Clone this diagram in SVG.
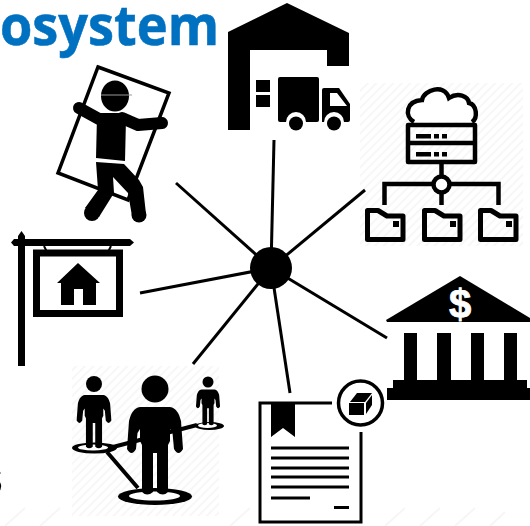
<svg xmlns="http://www.w3.org/2000/svg" width="530" height="526" viewBox="0 0 530 526">
<style>
.k{fill:#000}
.o{fill:none;stroke:#000}
.w{fill:#fff}
.lim{stroke:#000;stroke-linecap:round;fill:none}
#connectors line{stroke:#000;stroke-width:3}
.h{fill:url(#hatch)}
.fold{fill:none;stroke:#000;stroke-width:5;stroke-linejoin:round}
.streak{stroke:#f6f6f6;stroke-width:2}
</style>
<defs>
<pattern id="hatch" width="6" height="6" patternUnits="userSpaceOnUse" patternTransform="rotate(45)">
<rect width="6" height="6" fill="#fff"/><rect width="2" height="6" fill="#f7f7f7"/>
</pattern>
<path id="person" d="M-15 18 H15 C21 19 24 24 26 32 L28 60 Q23.500 68 19 60 L17.500 44 L15 40 V52 L13 56 V103 Q8 108 2 103 V64 H-2 V103 Q-8 108 -13 103 V56 L-15 52 V40 L-17.500 44 L-19 60 Q-23.500 68 -28 60 L-26 32 C-24 24 -21 19 -15 18 Z"/>
</defs>
<rect width="530" height="526" fill="#fff"/>
<g id="backdrop">
<line class="streak" x1="5" y1="526" x2="25" y2="508"/><line class="streak" x1="40" y1="526" x2="60" y2="508"/>
<line class="streak" x1="230" y1="526" x2="250" y2="508"/><line class="streak" x1="385" y1="526" x2="405" y2="508"/>
<line class="streak" x1="420" y1="526" x2="440" y2="508"/><line class="streak" x1="455" y1="526" x2="475" y2="508"/>
<line class="streak" x1="490" y1="526" x2="505" y2="512"/>
</g>
<g id="title"><text x="-27" y="45" font-family="'Open Sans','Liberation Sans',sans-serif" font-weight="700" font-size="56" fill="#0070c0" stroke="#0070c0" stroke-width=".6" textLength="246" lengthAdjust="spacingAndGlyphs">cosystem</text></g>
<g id="fragment"><text x="3" y="494" text-anchor="end" font-family="'Liberation Sans',sans-serif" font-size="50" fill="#000">s</text></g>
<g id="worker">
<polygon points="98,67 169,93 128,200 58,173" class="o" stroke-width="3.500"/>
<ellipse cx="115" cy="96" rx="14" ry="15.500" class="k"/>
<line x1="101" y1="95" x2="132" y2="95" stroke="#999" stroke-width="1"/>
<path d="M79 108 L99 119 M122 118 L138 125 L162 123" class="lim" stroke-width="12" stroke-linejoin="round"/>
<polygon points="97,116 100,113 122,113 126,118 125,161 96,158" class="k"/>
<polygon points="96,162 124,164 139,180 143,187 146,214 132,216 128,193 113,177 114,193 99,217 85,208 98,190" class="k"/>
<circle cx="92" cy="213" r="8" class="k"/><circle cx="139" cy="215" r="7.500" class="k"/>
</g>
<g id="warehouse">
<polygon points="228,32 287,3 349,33 349,66 327,66 327,50 250,50 250,130 228,130" class="k"/>
<rect x="256" y="80" width="14" height="12" class="k"/>
<rect x="256" y="95" width="14" height="12" class="k"/>
<rect x="278" y="77" width="41" height="45" rx="2" class="k"/>
<path d="M322 90 Q322 88 324 88 L339 88 L350 104 L350 120 Q350 122 348 122 L322 122 Z" class="k"/>
<polygon points="330,93 337,93 347,106 330,106" class="w"/>
<circle cx="296" cy="122" r="10" class="w"/><circle cx="296" cy="123.500" r="7" class="k"/>
<circle cx="334" cy="122" r="10" class="w"/><circle cx="334" cy="123.500" r="7" class="k"/>
</g>
<g id="cloud-network">
<rect x="360" y="83" width="163" height="163" class="h"/>
<g class="o" stroke-width="4.500">
<path d="M414 122 C404 116 406 101 422 100 C424 90 444 83 449 98 C458 92 468 96 469 103 C477 105 478 118 472 122" fill="#fff"/>
<rect x="408" y="125" width="67" height="37" stroke-linejoin="round"/>
<line x1="408" y1="143" x2="475" y2="143"/>
<line x1="441.500" y1="163" x2="441.500" y2="205"/>
<path d="M384.500 205 V184 H498.500 V205"/>
<circle cx="441.500" cy="184.500" r="8" fill="#fff"/>
</g>
<path class="fold" d="M367.500 210.500 H378 L387 216 H403 V239.500 H367.500 Z"/>
<path class="fold" d="M424.500 210.500 H435 L444 216 H460 V239.500 H424.500 Z"/>
<path class="fold" d="M480.500 210.500 H491 L500 216 H516 V239.500 H480.500 Z"/>
<g class="k">
<rect x="416" y="134" width="15" height="4.500"/><rect x="434" y="134" width="5" height="4.500"/><rect x="442" y="134" width="5" height="4.500"/>
<rect x="416" y="152" width="15" height="4.500"/><rect x="434" y="152" width="5" height="4.500"/><rect x="442" y="152" width="5" height="4.500"/>
<rect x="393" y="221" width="6" height="6"/><rect x="450" y="221" width="6" height="6"/><rect x="506" y="221" width="6" height="6"/>
</g>
</g>
<g id="sign">
<rect x="18" y="236" width="7" height="130" class="k"/>
<polygon points="21.500,231 25,236 25,239 130,239 134,242.500 130,246 14,246 11,242.500 14,239 18,239 18,236" class="k"/>
<path d="M44 246 L47 252 M111 246 L108 252" class="o" stroke-width="2"/>
<rect x="36.500" y="253" width="83" height="60.500" class="o" stroke-width="7"/>
<polygon points="78,263 100,283 96,283 96,305 83,305 83,289 74,289 74,305 61,305 61,283 57,283" class="k"/>
</g>
<g id="bank">
<polygon points="460,276 530,318 530,322 387,322 386,320" class="k"/>
<text x="460" y="318" text-anchor="middle" font-family="'Liberation Sans',sans-serif" font-weight="700" font-size="40" fill="#fff" stroke="#fff" stroke-width=".8">$</text>
<rect x="404" y="333" width="13" height="48" class="k"/>
<rect x="437" y="333" width="14" height="48" class="k"/>
<rect x="471" y="333" width="13" height="48" class="k"/>
<rect x="504" y="333" width="13" height="48" class="k"/>
<rect x="393" y="380" width="134" height="9" class="k"/>
<rect x="387" y="388" width="143" height="12" class="k"/>
</g>
<g id="people">
<rect x="72" y="366" width="147" height="150" class="h"/>
<path d="M113 447 L197 425 M107 452 L138 488" class="o" stroke-width="4"/>
<ellipse cx="94.500" cy="448" rx="22.500" ry="5.500" class="k"/><ellipse cx="93" cy="447.500" rx="15" ry="3" class="w"/>
<ellipse cx="209.500" cy="426" rx="14.500" ry="4" class="k"/><ellipse cx="207.500" cy="425.500" rx="9.500" ry="2.500" class="w"/>
<ellipse cx="155" cy="496.500" rx="37" ry="8.500" class="k"/><ellipse cx="154.500" cy="496" rx="25.500" ry="4.500" class="w"/>
<circle cx="155" cy="389" r="13.500" class="k"/>
<use href="#person" transform="translate(155 389)"/>
<circle cx="94" cy="384" r="8" class="k"/>
<use href="#person" transform="translate(94 384) scale(.62 .61)"/>
<circle cx="208" cy="382" r="5.500" class="k"/>
<use href="#person" transform="translate(208 382) scale(.43 .41)"/>
</g>
<g id="document">
<path d="M332 403 H260 V522 H361 V432" class="o" stroke-width="3"/>
<polygon points="271,403 295,403 295,437 283,428 271,437" class="k"/>
<g stroke="#000" stroke-width="3">
<line x1="271" y1="448" x2="349" y2="448"/><line x1="271" y1="458" x2="349" y2="458"/><line x1="271" y1="468" x2="349" y2="468"/><line x1="271" y1="477" x2="349" y2="477"/><line x1="271" y1="487" x2="349" y2="487"/><line x1="271" y1="498" x2="310" y2="498"/><line x1="334" y1="507.500" x2="349" y2="507.500"/>
</g>
<circle cx="360.500" cy="403" r="22" class="o" stroke-width="3.500" fill="#fff"/>
<polygon points="349,403 364,403 364,415 349,415" class="k"/>
<polygon points="350,402 357,393 372,393 365,402" class="k"/>
<polygon points="366,403 372,395 372,405 366,414" class="k"/>
</g>
<g id="connectors">
<line x1="271" y1="268" x2="274" y2="140"/>
<line x1="271" y1="268" x2="176" y2="183"/>
<line x1="271" y1="268" x2="365" y2="190"/>
<line x1="271" y1="268" x2="140" y2="293"/>
<line x1="271" y1="268" x2="193" y2="364"/>
<line x1="271" y1="268" x2="290" y2="393"/>
<line x1="271" y1="268" x2="387" y2="338"/>
</g>
<g id="hub"><circle cx="271" cy="268" r="21" class="k"/></g>
</svg>
